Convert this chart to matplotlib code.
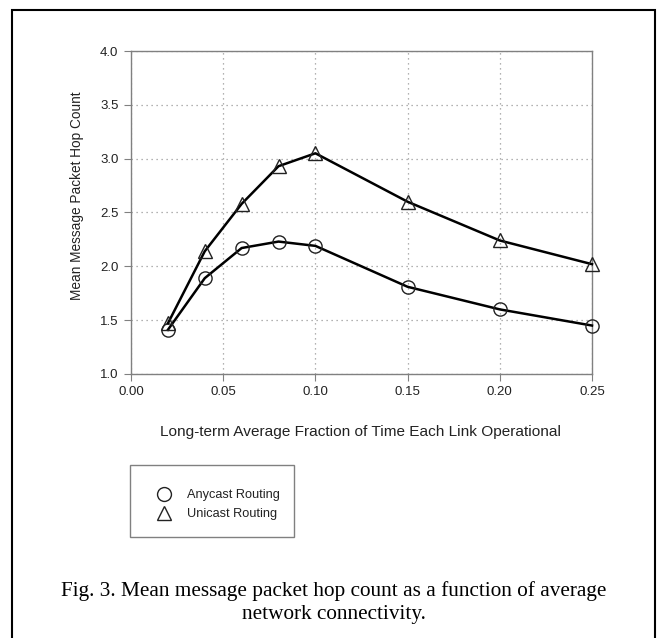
import numpy as np
import matplotlib
matplotlib.use('Agg')
import matplotlib.pyplot as plt
from matplotlib.patches import Rectangle

fraction = [0.02, 0.04, 0.06, 0.08, 0.10, 0.15, 0.20, 0.25]
anycast = [1.41, 1.89, 2.17, 2.23, 2.19, 1.81, 1.60, 1.45]
unicast = [1.47, 2.14, 2.58, 2.93, 3.05, 2.60, 2.24, 2.02]
xticks = [0.00, 0.05, 0.10, 0.15, 0.20, 0.25]
yticks = [1.0, 1.5, 2.0, 2.5, 3.0, 3.5, 4.0]

W, H = 657, 638
plt.rcParams['font.family'] = ['Liberation Sans', 'DejaVu Sans']
fig = plt.figure(figsize=(W / 100, H / 100), dpi=100)

# axes box in pixels: left 131, right 592, top 51, bottom 374
ax = fig.add_axes([131 / W, 1 - 374 / H, (592 - 131) / W, (374 - 51) / H])

ax.plot(fraction, anycast, color='black', lw=1.8, marker='o', ms=9.5,
        mfc='none', mec='#222222', mew=1.0, clip_on=False, zorder=3)
ax.plot(fraction, unicast, color='black', lw=1.8, marker='^', ms=9.5,
        mfc='none', mec='#222222', mew=1.0, clip_on=False, zorder=3)

ax.set_xlim(0, 0.25)
ax.set_ylim(1.0, 4.0)
ax.set_xticks(xticks)
ax.set_yticks(yticks)
ax.set_xticklabels([f'{v:.2f}' for v in xticks])
ax.set_yticklabels([f'{v:.1f}' for v in yticks])
ax.grid(True, color='#999999', ls=(0, (1, 3)), lw=0.9)
ax.set_axisbelow(True)
for s in ax.spines.values():
    s.set_color('#808080')
    s.set_linewidth(1.0)
ax.tick_params(direction='out', length=5, color='#808080', labelsize=9.5,
               labelcolor='#222222', pad=4)

fig.text(77 / W, 1 - 196 / H, 'Mean Message Packet Hop Count', rotation=90,
         fontsize=9.8, color='#222222', ha='center', va='center')
fig.text(361 / W, 1 - 432 / H,
         'Long-term Average Fraction of Time Each Link Operational',
         fontsize=11.1, color='#222222', ha='center', va='center')

# legend box
fig.patches.append(Rectangle((130 / W, 1 - 537 / H), (294 - 130) / W, (537 - 465) / H,
                             transform=fig.transFigure, fill=False,
                             ec='#808080', lw=1.0))
fig.legend(handles=[
    plt.Line2D([], [], ls='none', marker='o', ms=10, mfc='none', mec='#222222', mew=1.0),
    plt.Line2D([], [], ls='none', marker='^', ms=10, mfc='none', mec='#222222', mew=1.0)],
    labels=['Anycast Routing', 'Unicast Routing'],
    loc='upper left', bbox_to_anchor=(149 / W, 1 - 483 / H), frameon=False,
    fontsize=9.2, handlelength=1.4, handletextpad=1.1, labelspacing=0.55,
    borderpad=0, labelcolor='#222222')

# caption
fig.text(334 / W, 1 - 591 / H,
         'Fig. 3. Mean message packet hop count as a function of average',
         family=['Liberation Serif', 'DejaVu Serif'], fontsize=15.3,
         ha='center', va='center')
fig.text(334 / W, 1 - 614 / H, 'network connectivity.',
         family=['Liberation Serif', 'DejaVu Serif'], fontsize=15.3,
         ha='center', va='center')

# outer frame
fig.patches.append(Rectangle((12 / W, -0.05), (655 - 12) / W, 1.05 - 10 / H,
                             transform=fig.transFigure, fill=False,
                             ec='black', lw=1.5))

fig.savefig('out.png', dpi=100)
